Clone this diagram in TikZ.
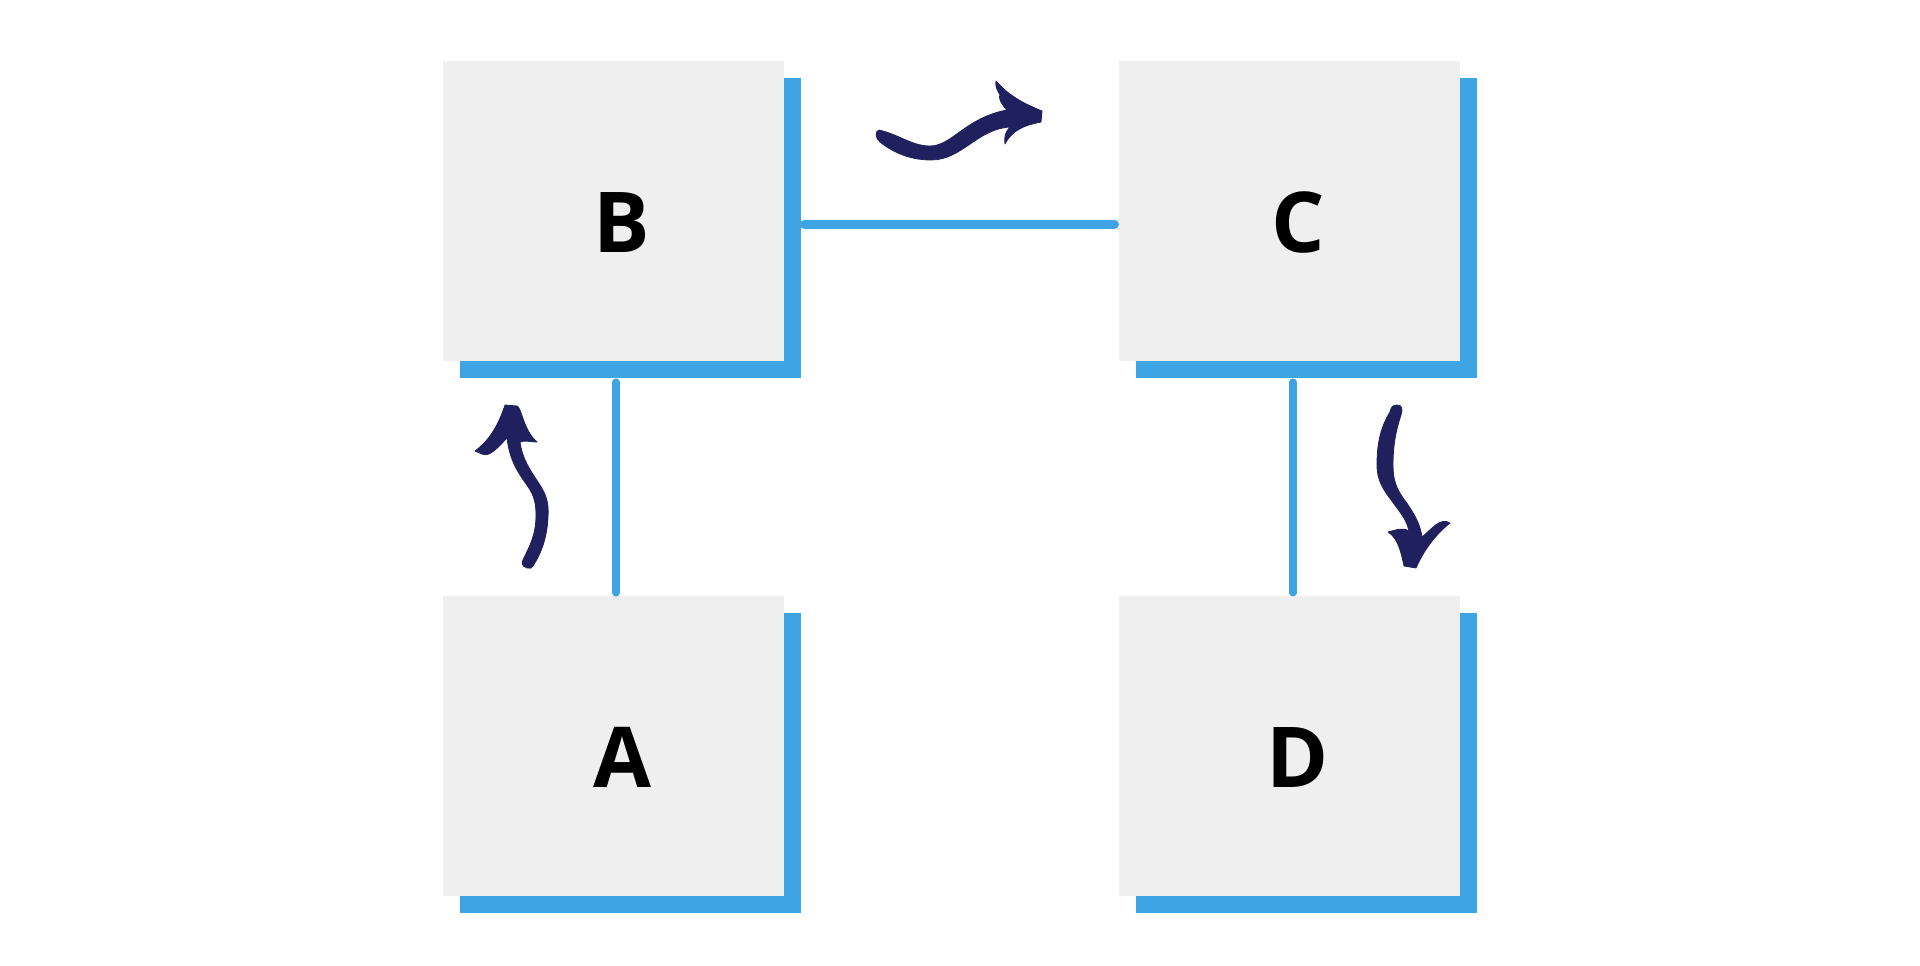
\documentclass[tikz,border=0pt]{standalone}
\usepackage{fontspec}
\setmainfont{Open Sans}
\usetikzlibrary{calc}
\definecolor{boxgray}{HTML}{EFEFEF}
\definecolor{shadowblue}{HTML}{3FA4E4}
\definecolor{navy}{HTML}{20205E}
\begin{document}
\begin{tikzpicture}[x=1pt,y=-1pt,
  card/.style={fill=boxgray, minimum width=341pt, minimum height=300pt, inner sep=0pt, outer sep=0pt},
  cardshadow/.style={fill=shadowblue, minimum width=341pt, minimum height=300pt, inner sep=0pt, outer sep=0pt},
  letter/.style={font=\fontsize{84}{84}\selectfont\bfseries, text=black, inner sep=0pt},
  conn/.style={draw=shadowblue, line width=7.5pt, line cap=round},
  sketch/.style={fill=navy, draw=navy, line width=0.8pt, line join=round}]
\useasboundingbox (0,0) rectangle (1920,966);
\fill[white] (0,0) rectangle (1920,966);
% shadows
\node[cardshadow] (Bs) at (630.5,227.7) {};
\node[cardshadow] (Cs) at (1306.5,227.7) {};
\node[cardshadow] (As) at (630.5,762.7) {};
\node[cardshadow] (Ds) at (1306.5,762.7) {};
% cards
\node[card] (B) at (613.5,210.7) {};
\node[card] (C) at (1289.5,210.7) {};
\node[card] (A) at (613.5,745.7) {};
\node[card] (D) at (1289.5,745.7) {};
% labels
\node[letter] (lB) at ([shift={(0,3.5)}]$(B)!0.5!(Bs)$) {B};
\node[letter] (lC) at ([shift={(0,3.5)}]$(C)!0.5!(Cs)$) {C};
\node[letter] (lA) at ([shift={(0,3.5)}]$(A)!0.5!(As)$) {A};
\node[letter] (lD) at ([shift={(0,3.5)}]$(D)!0.5!(Ds)$) {D};
% connectors
\coordinate (bc1) at ([shift={(3.5,-3.5)}]Bs.east);
\coordinate (bc2) at (bc1 -| C.west);
\draw[conn, line width=9pt, shorten >=4.5pt] (bc1) -- (bc2);
\coordinate (ab0) at (B.south |- Bs.south);
\coordinate (ab1) at ([shift={(2.5,4.5)}]ab0);
\coordinate (ab2) at (ab1 |- A.north);
\draw[conn, shorten >=3pt] (ab1) -- (ab2);
\coordinate (cd0) at (C.south |- Cs.south);
\coordinate (cd1) at ([shift={(3.5,4.5)}]cd0);
\coordinate (cd2) at (cd1 |- D.north);
\draw[conn, shorten >=3pt] (cd1) -- (cd2);
% hand-drawn arrow B -> C
\path[sketch] (879,130)
  .. controls (900,135) and (912,146) .. (930,146)
  .. controls (952,146) and (965,118) .. (1007,110)
  .. controls (1001,104) and (998,97) .. (1000,95)
  .. controls (997,90) and (995,86) .. (996,81)
  .. controls (1010,97) and (1025,104) .. (1042,111)
  -- (1041,122)
  .. controls (1025,125) and (1012,130) .. (1005,144)
  .. controls (1004,138) and (1005,132) .. (1010,127)
  .. controls (977,129) and (962,160) .. (931,160)
  .. controls (907,160) and (890,150) .. (880,142)
  .. controls (875,138) and (875,131) .. cycle;
% hand-drawn arrow A -> B
\path[sketch] (527,568)
  .. controls (521,566) and (522,562) .. (523,560)
  .. controls (530,545) and (536,535) .. (536,515)
  .. controls (536,495) and (530,490) .. (522,478)
  .. controls (514,466) and (509,455) .. (507,438)
  .. controls (500,445) and (490,458) .. (482,454)
  -- (475,451)
  .. controls (490,440) and (498,425) .. (504,408)
  -- (505,405) -- (517,406)
  .. controls (522,408) and (523,430) .. (537,442)
  .. controls (530,442) and (525,440) .. (520,442)
  .. controls (522,458) and (530,470) .. (538,482)
  .. controls (546,494) and (549,502) .. (548,517)
  .. controls (547,540) and (540,555) .. (533,566)
  .. controls (532,568) and (530,569) .. cycle;
% hand-drawn arrow C -> D
\path[sketch] (1397,405)
  .. controls (1392,405) and (1391,408) .. (1390,412)
  .. controls (1380,428) and (1377,445) .. (1377,465)
  .. controls (1377,485) and (1388,495) .. (1397,508)
  .. controls (1403,516) and (1407,522) .. (1409,531)
  .. controls (1402,527) and (1396,530) .. (1388,532)
  .. controls (1398,538) and (1401,552) .. (1404,566)
  -- (1416,568)
  .. controls (1424,550) and (1435,535) .. (1450,523)
  .. controls (1440,517) and (1432,529) .. (1422,537)
  .. controls (1420,524) and (1415,515) .. (1406,502)
  .. controls (1396,489) and (1393,480) .. (1393,465)
  .. controls (1393,445) and (1396,430) .. (1401,415)
  .. controls (1403,409) and (1402,405) .. cycle;
\end{tikzpicture}
\end{document}
